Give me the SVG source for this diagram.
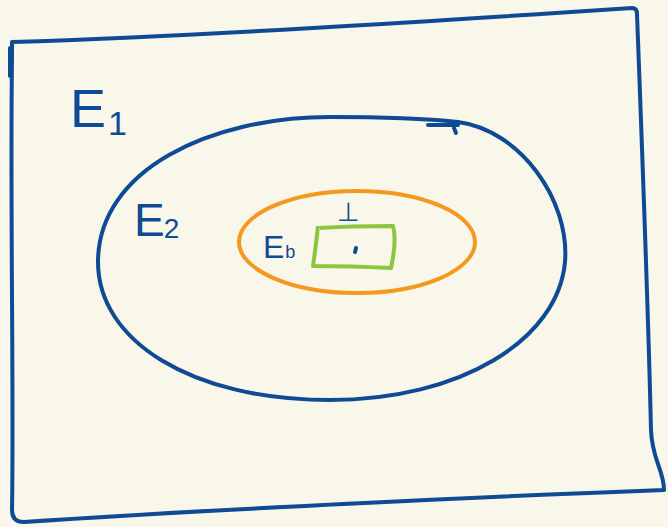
<svg xmlns="http://www.w3.org/2000/svg" width="668" height="527" viewBox="0 0 668 527">
<style>
.b{fill:none;stroke:#0f4a94;stroke-width:4;stroke-linecap:round;stroke-linejoin:round}
.o{fill:none;stroke:#f4991f;stroke-width:4}
.g{fill:none;stroke:#8cc63f;stroke-width:4;stroke-linejoin:round}
.t{font-family:"Liberation Sans",Arial,sans-serif;fill:#0f4a94}
</style>
<rect width="668" height="527" fill="#f9f6ea"/>
<g id="E1">
<path class="b" d="M12,42 C200,36 420,22 632,8 Q637,8 637,14 C641,120 648,300 651,430 C652,460 664,470 664,490 C500,496 200,510 24,522 Q12,522 12,510 C14,400 10,200 12,60 Q12,44 12,42 M10,48 L10,76"/>
<text class="t" x="70" y="127" font-size="54">E<tspan font-size="34" dx="2" dy="8">1</tspan></text>
</g>
<g id="E2">
<path class="b" d="M330,117 C380,117 420,118 458,122 C520,130 570,200 565,262 C558,340 460,400 330,400 C190,400 98,340 98,262 C98,170 210,117 330,117 Z M428,125 L458,125"/>
<path class="b" d="M454,128 L456,133" stroke-width="1.5"/>
<text class="t" x="134" y="236" font-size="46">E<tspan font-size="28" dx="-1" dy="2">2</tspan></text>
</g>
<g id="Eb">
<ellipse class="o" cx="357" cy="242" rx="118" ry="51"/>
<text class="t" x="263" y="258" font-size="32">E<tspan font-size="18" dx="1">b</tspan></text>
</g>
<g id="bottom">
<path class="g" d="M320,228 Q350,226 393,226 Q397,240 391,268 Q350,266 313,266 Q316,245 318,226"/>
<text class="t" x="337" y="221" font-size="26">⊥</text>
<path class="b" d="M356,248 L355,252" stroke-width="2.5"/>
</g>
<g id="connectors"/>
</svg>
